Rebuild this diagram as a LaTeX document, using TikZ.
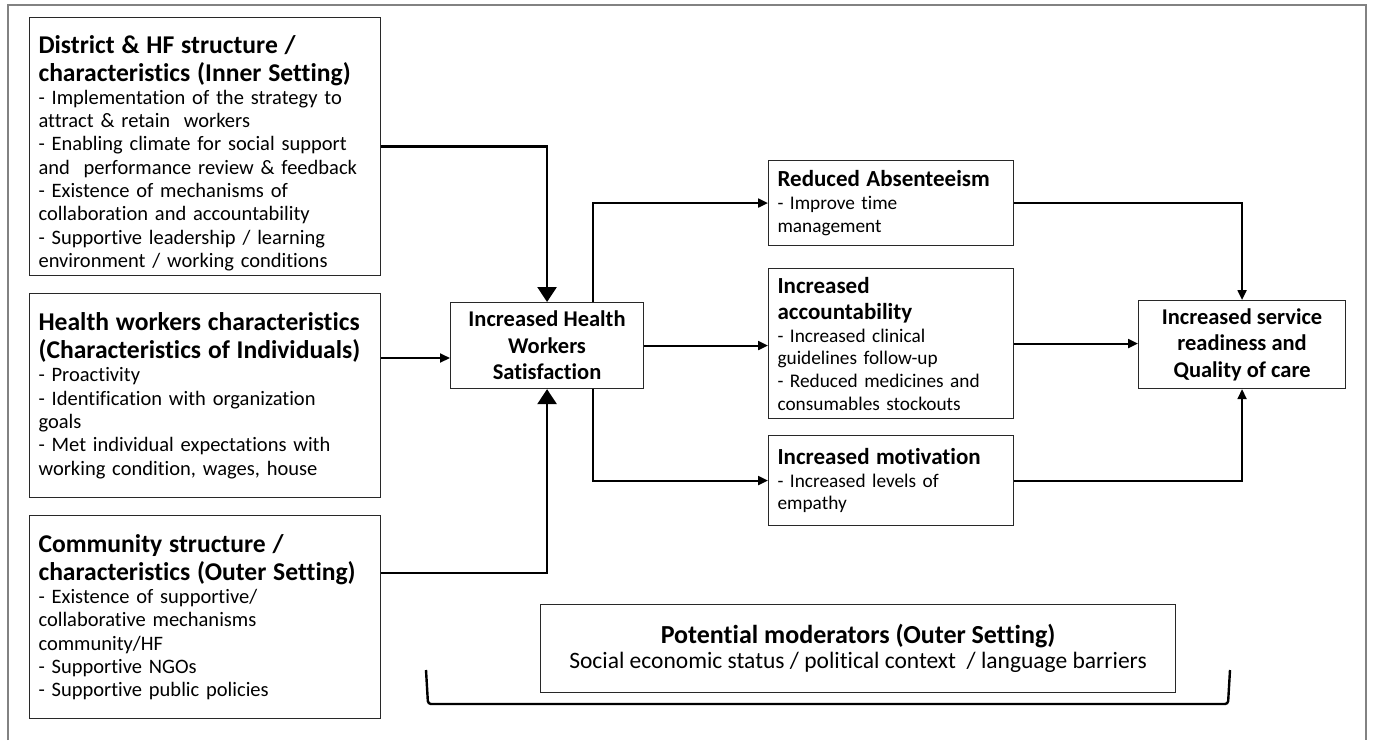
\documentclass[tikz,border=0pt]{standalone}
\usepackage{fontspec}
\setmainfont{Carlito}[Ligatures=NoCommon]
\usepackage{xcolor}
\usetikzlibrary{arrows.meta, positioning, calc}
\definecolor{framegray}{RGB}{130,130,130}
\definecolor{boxline}{RGB}{40,40,40}
\newcommand{\hdrfont}{\fontsize{25.6}{28}\selectfont\bfseries}
\newcommand{\bodyfont}{\fontsize{20.5}{23.3}\selectfont}
\newcommand{\outfont}{\fontsize{23}{26.5}\selectfont\bfseries}
\tikzset{
  factor/.style={rectangle, draw=boxline, line width=1.1pt, text width=333pt, align=left, inner xsep=9pt, inner ysep=0pt, anchor=north west, font=\bodyfont},
  outcome/.style={rectangle, draw=boxline, line width=1.1pt, text width=227pt, align=left, inner xsep=9pt, inner ysep=0pt, anchor=north west, font=\fontsize{19.3}{22.6}\selectfont},
  hub/.style={rectangle, draw=boxline, line width=1.1pt, align=center, inner sep=0pt, anchor=north west, font=\fontsize{22.5}{26.5}\selectfont\bfseries},
  bigarrow/.style={-{Triangle[length=15pt, width=19pt]}, line width=2.6pt, color=black},
  arrow/.style={-{Triangle[length=10pt, width=9pt]}, line width=2pt, color=black},
  line/.style={line width=2.4pt, color=black}
}

\begin{document}
\begin{tikzpicture}[x=1pt, y=-1pt]
  \useasboundingbox (0,0) rectangle (1376,740);
  % Frame
  \draw[framegray, line width=1.2pt] (8,740) -- (8,5) -- (1366,5) -- (1366,740);

  % Determinants
  \node[factor, minimum height=258pt] (inner) at (29,17) {{\hdrfont\rule{0pt}{31pt}District \& HF structure /\\ characteristics (Inner Setting)\par}
    - Implementation of the strategy to\\ attract \& retain\ \ workers\\ - Enabling climate for social support\\ and\ \ performance review \& feedback\\ - Existence of mechanisms of\\ collaboration and accountability\\ - Supportive leadership / learning\\ environment / working conditions};
  \node[factor, minimum height=204pt] (workers) at (29,293) {{\hdrfont Health workers characteristics\\ (Characteristics of Individuals)\par}
    - Proactivity\\ - Identification with organization\\ goals\\ - Met individual expectations with\\ working condition, wages, house};
  \node[factor, minimum height=203pt] (outer) at (29,515) {{\hdrfont Community structure /\\ characteristics (Outer Setting)\par}
    - Existence of supportive/\\ collaborative mechanisms\\ community/HF\\ - Supportive NGOs\\ - Supportive public policies};

  % Satisfaction
  \node[hub, minimum width=193pt, minimum height=86pt] (satis) at (450,302) {Increased Health\\ Workers\\ Satisfaction};

  % Outcomes
  \node[outcome, minimum height=85pt] (absent) at (768,160) {{\outfont Reduced Absenteeism\par}
    - Improve time\\ management};
  \node[outcome, minimum height=150pt] (account) at (768,268) {{\outfont Increased\\ accountability\par}
    - Increased clinical\\ guidelines follow-up\\ - Reduced medicines and\\ consumables stockouts};
  \node[outcome, minimum height=90pt] (motiv) at (768,435) {{\outfont Increased motivation\par}
    - Increased levels of\\ empathy};

  % Quality
  \node[hub, minimum width=207pt, minimum height=88pt] (quality) at (1138,300) {Increased service\\ readiness and\\ Quality of care};

  % Moderators
  \node[rectangle, draw=boxline, line width=1.1pt, minimum width=635pt, minimum height=88pt, anchor=north west, align=center, inner sep=0pt] (moder) at (540,604)
    {{\fontsize{26}{28}\selectfont\bfseries Potential moderators (Outer Setting)}\\[3pt]
     {\fontsize{23.5}{26}\selectfont Social economic status / political context\ \ / language barriers}};
  \coordinate (brL) at (426,670);
  \coordinate (brR) at (1230,670);
  \draw[line, rounded corners=3pt] (brL) -- ($(brL)+(2,34)$) -- ($(brR)+(-2,34)$) -- (brR);

  % Into satisfaction
  \coordinate (yW) at (0,358);
  \coordinate (yC) at (0,573);
  \draw[bigarrow] (inner.east) -| (satis.north);
  \draw[arrow] (workers.east |- yW) -- (satis.west |- yW);
  \draw[bigarrow] (outer.east |- yC) -| (satis.south);

  % Out of satisfaction
  \coordinate (sx) at (593,0);
  \draw[arrow] (satis.north -| sx) |- (absent.west);
  \draw[arrow] (satis.east) -- (satis.east -| account.west);
  \draw[arrow] (satis.south -| sx) |- (motiv.west);

  % Into quality
  \draw[arrow] (absent.east) -| (quality.north);
  \draw[arrow] (account.east) -- (account.east -| quality.west);
  \draw[arrow] (motiv.east) -| (quality.south);
\end{tikzpicture}
\end{document}
